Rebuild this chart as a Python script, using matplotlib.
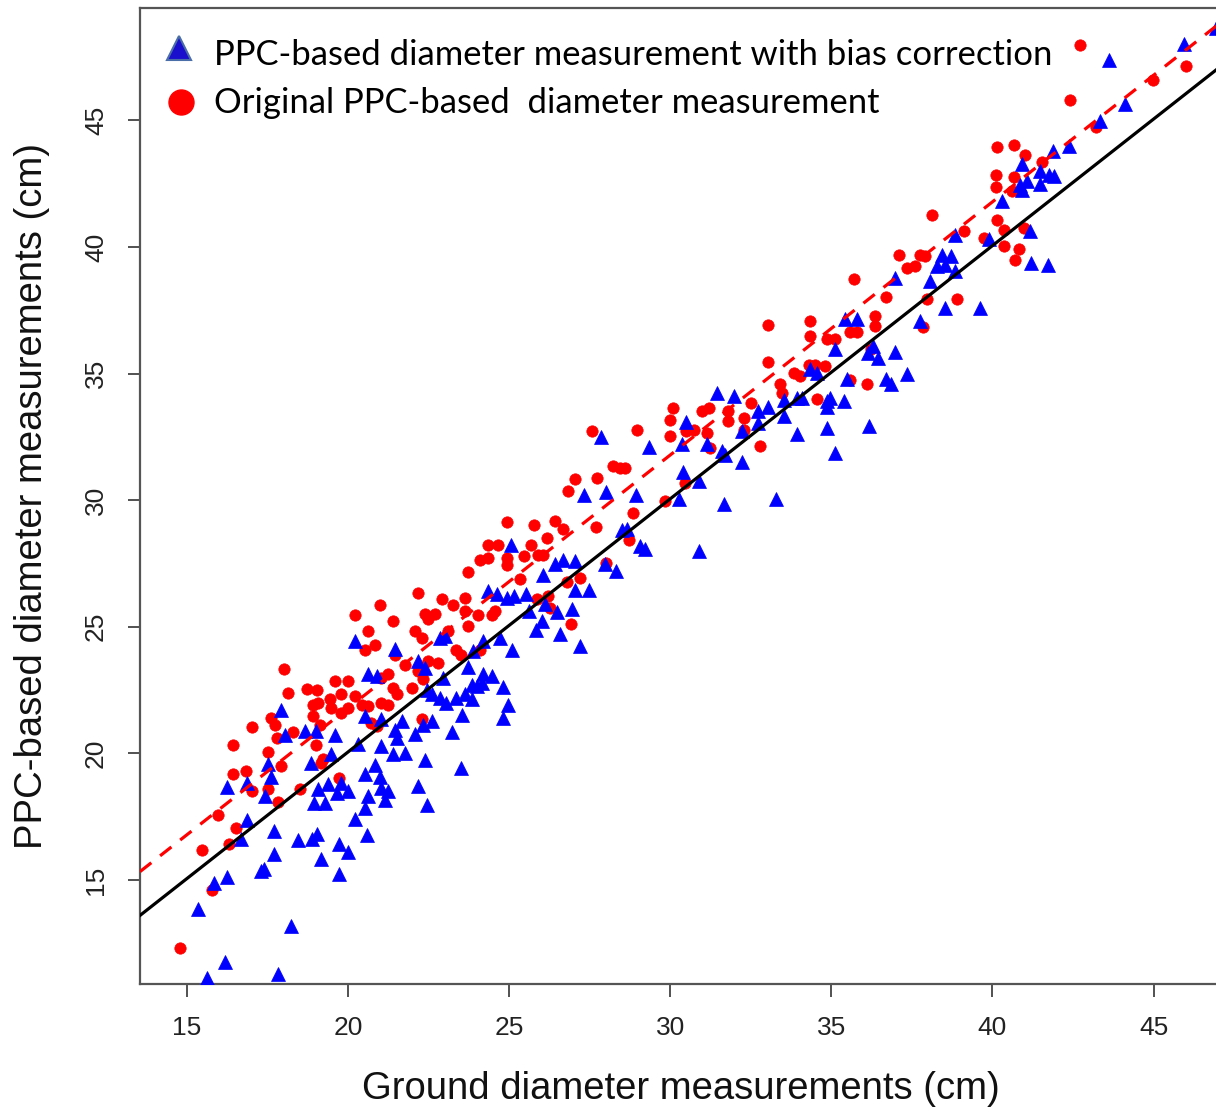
import numpy as np
import matplotlib
matplotlib.use("Agg")
import matplotlib.pyplot as plt

# ---------------- data ----------------
# Original PPC-based diameter measurement (red circles)
ground_orig = [
    18.01, 18.13, 18.72, 19.03, 19.60, 18.93, 19.08, 19.44, 19.49, 17.63, 17.73, 18.93, 19.13, 17.04, 18.30, 17.79, 19.00,
    16.44, 17.52, 19.23, 17.94, 16.44, 16.83, 17.04, 17.52, 18.51, 17.84, 15.97, 16.52, 16.31, 15.49, 15.77, 14.78, 19.73,
    22.18, 22.91, 23.63, 23.25, 20.99, 20.22, 22.39, 22.70, 22.49, 23.63, 24.57, 21.41, 20.63, 23.74, 22.08, 22.29, 23.12,
    20.84, 20.53, 23.37, 23.52, 24.10, 21.46, 22.49, 22.80, 21.77, 22.18, 21.24, 21.04, 22.34, 20.01, 19.80, 21.41, 21.51,
    21.98, 20.22, 20.43, 20.63, 21.04, 21.24, 20.01, 19.80, 20.73, 20.89, 22.29, 19.18,
    27.57, 28.97, 28.24, 28.45, 28.60, 27.05, 27.72, 26.82, 28.86, 24.93, 25.79, 26.43, 26.69, 27.70, 26.17, 28.71, 24.36,
    24.67, 25.68, 25.45, 25.91, 26.07, 24.10, 24.36, 24.93, 24.93, 23.74, 25.34, 26.79, 27.20, 28.01, 24.05, 24.46, 25.86,
    26.22, 26.27, 26.91,
    33.03, 34.33, 34.33, 33.03, 33.83, 34.04, 33.42, 33.47, 34.56, 32.52, 30.98, 31.19, 30.10, 31.81, 31.81, 32.28, 30.00,
    30.50, 30.75, 31.13, 32.28, 30.00, 31.24, 32.80, 30.47, 29.84,
    38.13, 40.15, 39.11, 39.73, 37.09, 37.76, 37.92, 37.35, 37.61, 35.69, 36.71, 37.97, 38.90, 36.37, 36.37, 37.85, 34.86,
    35.12, 35.59, 35.79, 36.22, 34.30, 34.50, 34.81, 35.59, 36.11,
    42.71, 45.99, 44.99, 42.42, 43.20, 40.15, 40.66, 41.02, 41.54, 40.12, 40.66, 40.12, 40.61, 40.35, 40.97, 40.35, 40.82,
    40.69,
]
ppc_orig = [
    23.32, 22.37, 22.55, 22.49, 22.86, 21.93, 22.00, 22.13, 21.80, 21.40, 21.14, 21.49, 21.14, 21.04, 20.85, 20.59, 20.35,
    20.33, 20.05, 19.76, 19.50, 19.19, 19.30, 18.51, 18.58, 18.60, 18.08, 17.56, 17.06, 16.43, 16.17, 14.59, 12.33, 19.03,
    26.34, 26.08, 26.12, 25.84, 25.84, 25.48, 25.52, 25.52, 25.29, 25.64, 25.62, 25.22, 24.83, 25.05, 24.83, 24.54, 24.83,
    24.28, 24.07, 24.10, 23.90, 24.10, 23.87, 23.64, 23.58, 23.49, 23.25, 23.12, 22.98, 22.92, 22.86, 22.35, 22.59, 22.33,
    22.59, 22.26, 21.93, 21.87, 22.00, 21.93, 21.80, 21.60, 21.20, 21.08, 21.34, 19.63,
    32.73, 32.79, 31.34, 31.27, 31.27, 30.85, 30.88, 30.38, 29.50, 29.13, 29.00, 29.19, 28.88, 28.93, 28.51, 28.44, 28.24,
    28.24, 28.22, 27.79, 27.85, 27.85, 27.65, 27.72, 27.72, 27.43, 27.17, 26.87, 26.77, 26.91, 27.52, 25.48, 25.48, 26.10,
    26.21, 25.75, 25.11,
    36.91, 37.09, 36.47, 35.45, 35.02, 34.90, 34.59, 34.23, 34.01, 33.84, 33.51, 33.62, 33.62, 33.51, 33.12, 33.25, 33.18,
    32.73, 32.79, 32.66, 32.79, 32.53, 32.06, 32.13, 30.68, 29.96,
    41.25, 41.08, 40.62, 40.36, 39.70, 39.70, 39.63, 39.18, 39.24, 38.72, 38.02, 37.96, 37.96, 37.29, 36.87, 36.83, 36.37,
    36.37, 36.63, 36.63, 35.97, 35.33, 35.35, 35.29, 34.76, 34.59,
    47.97, 47.14, 46.58, 45.82, 44.73, 43.94, 44.04, 43.62, 43.35, 42.85, 42.75, 42.36, 42.20, 40.68, 40.75, 40.03, 39.93,
    39.50,
]

# PPC-based diameter measurement with bias correction (blue triangles)
ground_corr = [
    17.94, 18.04, 18.66, 19.00, 19.60, 18.87, 19.49, 17.52, 17.63, 16.26, 16.87, 17.42, 19.08, 19.39, 19.65, 18.94, 19.29,
    16.88, 17.71, 16.70, 18.46, 18.90, 19.03, 19.73, 17.71, 19.16, 17.39, 17.31, 16.25, 15.85, 19.73, 15.35, 18.25, 16.18,
    15.64, 17.84,
    24.36, 24.62, 24.93, 25.14, 20.22, 22.86, 23.01, 21.46, 24.20, 24.72, 23.87, 25.08, 22.18, 22.39, 23.74, 20.63, 20.89,
    22.96, 24.20, 24.46, 23.84, 24.00, 24.15, 22.45, 22.60, 24.82, 22.86, 23.06, 23.37, 23.63, 23.84, 24.98, 23.53, 24.82,
    20.53, 21.04, 21.67, 21.46, 21.51, 22.34, 22.60, 22.08, 23.22, 20.32, 21.04, 21.41, 21.77, 22.39, 20.84, 23.50, 20.53,
    20.99, 19.80, 20.01, 21.04, 21.24, 22.18, 20.63, 21.15, 22.45, 20.53, 20.22, 20.60, 20.01,
    27.86, 29.33, 27.33, 28.00, 28.93, 28.51, 28.66, 29.05, 29.22, 25.06, 26.43, 26.69, 27.05, 27.98, 28.32, 26.04, 25.53,
    27.05, 27.48, 26.12, 25.63, 26.48, 26.95, 26.01, 25.84, 26.57, 27.20,
    31.45, 31.97, 34.33, 34.56, 33.52, 33.93, 34.09, 32.74, 33.05, 30.50, 32.74, 33.52, 32.23, 33.93, 30.36, 31.13, 31.60,
    31.71, 32.23, 30.39, 30.91, 30.26, 31.66, 33.29, 30.88,
    38.85, 39.89, 38.44, 38.70, 38.28, 38.54, 38.85, 36.97, 38.06, 39.60, 38.54, 35.41, 35.79, 37.76, 36.29, 36.97, 35.12,
    36.13, 36.44, 37.35, 36.71, 36.86, 35.48, 34.86, 34.96, 34.86, 35.38, 34.86, 36.18, 35.12,
    43.61, 45.94, 46.93, 44.12, 43.34, 42.36, 41.89, 40.92, 41.49, 41.75, 41.91, 41.07, 40.87, 40.92, 41.49, 40.29, 41.18,
    41.21, 41.72,
]
ppc_corr = [
    21.73, 20.72, 20.88, 20.88, 20.72, 19.63, 19.96, 19.59, 19.06, 18.67, 18.84, 18.30, 18.60, 18.80, 18.44, 18.05, 18.05,
    17.35, 16.93, 16.63, 16.58, 16.60, 16.80, 16.43, 16.04, 15.81, 15.42, 15.35, 15.12, 14.89, 15.22, 13.84, 13.18, 11.77,
    11.12, 11.27,
    26.41, 26.28, 26.14, 26.21, 24.44, 24.54, 24.63, 24.14, 24.44, 24.54, 24.06, 24.10, 23.64, 23.38, 23.41, 23.12, 23.05,
    22.98, 23.12, 23.05, 22.72, 22.66, 22.79, 22.52, 22.35, 22.62, 22.20, 22.00, 22.20, 22.33, 22.13, 21.91, 21.51, 21.40,
    21.47, 21.34, 21.28, 20.94, 20.61, 21.14, 21.28, 20.78, 20.84, 20.38, 20.31, 19.96, 20.00, 19.74, 19.56, 19.43, 19.17,
    19.07, 18.84, 18.51, 18.64, 18.51, 18.71, 18.31, 18.16, 17.98, 17.85, 17.39, 16.76, 16.10,
    32.49, 32.09, 30.20, 30.32, 30.20, 28.84, 28.88, 28.19, 28.09, 28.22, 27.46, 27.65, 27.59, 27.48, 27.22, 27.06, 26.28,
    26.44, 26.47, 25.90, 25.64, 25.59, 25.71, 25.22, 24.86, 24.70, 24.26,
    34.23, 34.10, 35.16, 35.02, 33.97, 34.04, 34.04, 33.54, 33.67, 33.09, 33.05, 33.31, 32.73, 32.62, 32.22, 32.22, 31.94,
    31.78, 31.50, 31.12, 30.77, 30.06, 29.83, 30.06, 28.01,
    40.48, 40.33, 39.70, 39.63, 39.24, 39.30, 39.04, 38.78, 38.65, 37.60, 37.57, 37.17, 37.17, 37.07, 36.10, 35.87, 35.97,
    35.81, 35.62, 34.98, 34.80, 34.57, 34.80, 33.93, 34.04, 33.67, 33.93, 32.83, 32.92, 31.88,
    47.40, 48.02, 48.64, 45.66, 44.96, 43.98, 43.80, 43.28, 42.99, 42.85, 42.79, 42.62, 42.46, 42.26, 42.49, 41.83, 40.64,
    39.37, 39.28,
]

# fitted lines: (intercept, slope)
line_corr = [0.05, 1.0]    # black solid
line_orig = [1.78, 1.0]    # red dashed

x_ticks = [15, 20, 25, 30, 35, 40, 45]
y_ticks = [15, 20, 25, 30, 35, 40, 45]
x_label = "Ground diameter measurements (cm)"
y_label = "PPC-based diameter measurements (cm)"
legend_labels = ["PPC-based diameter measurement with bias correction",
                 "Original PPC-based  diameter measurement"]

# ---------------- figure ----------------
W, H = 1216, 1110
DPI = 100
fig = plt.figure(figsize=(W / DPI, H / DPI), dpi=DPI)
fig.patch.set_facecolor("white")

x_lim = (13.551, 47.2)
y_lim = (10.893, 49.435)
px_per_unit_x = 32.23
ax_l_px, ax_t_px, ax_b_px = 140, 8, 984
ax_r_px = ax_l_px + (x_lim[1] - x_lim[0]) * px_per_unit_x
ax = fig.add_axes([ax_l_px / W, (H - ax_b_px) / H,
                   (ax_r_px - ax_l_px) / W, (ax_b_px - ax_t_px) / H])
ax.set_xlim(*x_lim)
ax.set_ylim(*y_lim)

axis_font = "Liberation Sans"
legend_font = "Lato"

# points
ax.plot(ground_orig, ppc_orig, linestyle="none", marker="o", markersize=8.2,
        markerfacecolor="#ff0000", markeredgecolor="#ff0000", markeredgewidth=0.5, zorder=3)
ax.plot(ground_corr, ppc_corr, linestyle="none", marker="^", markersize=10,
        markerfacecolor="#0000ff", markeredgecolor="#0000ff", markeredgewidth=0.5, zorder=4)

# lines
xs = np.array(x_lim)
ax.plot(xs, line_corr[0] + line_corr[1] * xs, color="black", linewidth=2.3, zorder=5)
ax.plot(xs, line_orig[0] + line_orig[1] * xs, color="#ff0000", linewidth=2.3,
        dashes=(4.5, 3.5), zorder=5)

# spines
for side in ("left", "bottom", "top"):
    ax.spines[side].set_color("#555555")
    ax.spines[side].set_linewidth(1.6)
ax.spines["right"].set_visible(False)

ax.set_xticks(x_ticks)
ax.set_yticks(y_ticks)
ax.set_xticklabels([str(t) for t in x_ticks])
ax.set_yticklabels([str(t) for t in y_ticks])
ax.tick_params(axis="both", direction="out", length=9, width=1.2, color="#333333",
               labelsize=19, labelcolor="#222222")
ax.tick_params(axis="x", pad=14)
ax.tick_params(axis="y", pad=14)
for lab in ax.get_xticklabels() + ax.get_yticklabels():
    lab.set_family(axis_font)
for lab in ax.get_yticklabels():
    lab.set_rotation(90)
    lab.set_va("center")

ax.set_xlabel(x_label, fontsize=27.5, family=axis_font, color="#111111")
ax.set_ylabel(y_label, fontsize=27.5, family=axis_font, color="#111111")
ax_w_px = ax_r_px - ax_l_px
ax_h_px = ax_b_px - ax_t_px
ax.xaxis.set_label_coords((681 - ax_l_px) / ax_w_px, (ax_b_px - 1089) / ax_h_px)
ax.xaxis.label.set_va("center")
ax.yaxis.set_label_coords((32 - ax_l_px) / ax_w_px, 0.5)
ax.yaxis.label.set_va("center")

# legend (manual, frameless)
def fx(px):
    return px / W

def fy(py):
    return 1 - py / H

fig.lines.append(plt.Line2D([fx(179)], [fy(48)], transform=fig.transFigure, linestyle="none",
                            marker="^", markersize=17, markerfacecolor="#1a0fcc",
                            markeredgecolor="#4a6ea8", markeredgewidth=1.5))
fig.lines.append(plt.Line2D([fx(181)], [fy(102)], transform=fig.transFigure, linestyle="none",
                            marker="o", markersize=18, markerfacecolor="#ff0000",
                            markeredgecolor="#ff0000"))
fig.text(fx(214), fy(65), legend_labels[0], family=legend_font, fontsize=24.9,
         color="black", va="baseline", ha="left")
fig.text(fx(214), fy(113), legend_labels[1], family=legend_font, fontsize=24.9,
         color="black", va="baseline", ha="left")

fig.savefig("out.png", dpi=DPI, facecolor="white")
